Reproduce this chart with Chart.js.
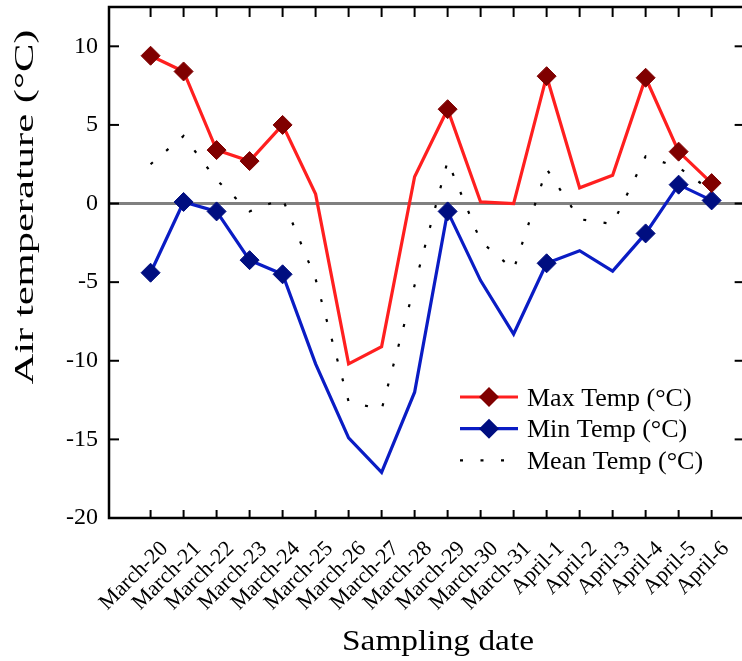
<!DOCTYPE html>
<html>
<head>
<meta charset="utf-8">
<title>Air temperature</title>
<script src="https://cdn.jsdelivr.net/npm/chart.js@4/dist/chart.umd.min.js"></script>
<style>
  html, body { margin: 0; padding: 0; background: #fff; }
  canvas { display: block; }
</style>
</head>
<body>
<canvas id="chart" width="742" height="661"></canvas>
<script>
const dates = [
  "March-20", "March-21", "March-22", "March-23", "March-24", "March-25",
  "March-26", "March-27", "March-28", "March-29", "March-30", "March-31",
  "April-1", "April-2", "April-3", "April-4", "April-5", "April-6",
];
const maxTemp = [9.4, 8.4, 3.4, 2.7, 5.0, 0.6, -10.2, -9.1, 1.7, 6.0, 0.1, 0.0, 8.1, 1.0, 1.8, 8.0, 3.3, 1.3];
const minTemp = [-4.4, 0.1, -0.5, -3.6, -4.5, -10.2, -14.9, -17.1, -12.0, -0.5, -4.9, -8.3, -3.8, -3.0, -4.3, -1.9, 1.2, 0.2];
const meanTemp = [2.5, 4.3, 1.5, -0.5, 0.3, -4.8, -12.6, -13.1, -5.2, 2.7, -2.4, -4.2, 2.2, -1.0, -1.3, 3.0, 2.3, 0.8];
// days that carry a diamond marker
const markedDates = ["March-20", "March-21", "March-22", "March-23", "March-24", "March-29", "April-1", "April-4", "April-5", "April-6"];
const yMin = -20;
const yMax = 12.5;
const yStep = 2.5;
const yLabelStep = 5;

const SERIF = '"Liberation Serif", "Times New Roman", serif';
const points = (vals) => vals.map((v, i) => ({ x: i, y: v }));
const markerSize = dates.map((d) => (markedDates.includes(d) ? 9.5 : 0));

function seg(ctx, x1, y1, x2, y2) {
  ctx.beginPath();
  ctx.moveTo(x1, y1);
  ctx.lineTo(x2, y2);
  ctx.stroke();
}

function diamond(ctx, cx, cy, r, color) {
  ctx.beginPath();
  ctx.moveTo(cx - r, cy);
  ctx.lineTo(cx, cy - r);
  ctx.lineTo(cx + r, cy);
  ctx.lineTo(cx, cy + r);
  ctx.closePath();
  ctx.fillStyle = color;
  ctx.fill();
}

// fixed axis sizes, no extra room for overhanging labels
function fixSize(prop, size) {
  return (s) => {
    s[prop] = size;
    s.paddingTop = s.paddingBottom = s.paddingLeft = s.paddingRight = 0;
  };
}

// boxed frame with inward ticks on all four sides, titles and legend
const framePlugin = {
  id: "frame",
  afterDraw(chart) {
    const { ctx, chartArea: a, scales } = chart;
    const x = scales.x;
    const y = scales.y;
    const right = x.getPixelForValue(18);
    ctx.save();
    ctx.strokeStyle = "#000";
    ctx.lineCap = "butt";

    ctx.lineWidth = 2;
    x.ticks.forEach((t) => {
      const px = x.getPixelForValue(t.value);
      seg(ctx, px, a.bottom, px, a.bottom - 8);
      seg(ctx, px, a.top, px, a.top + 10);
    });
    y.ticks.forEach((t) => {
      const py = y.getPixelForValue(t.value);
      const len = t.value % yLabelStep === 0 ? 10 : 5;
      seg(ctx, a.left, py, a.left + len, py);
      seg(ctx, right, py, right - len, py);
    });

    ctx.lineWidth = 2.5;
    ctx.strokeRect(a.left, a.top, right - a.left, a.bottom - a.top);

    // axis titles
    ctx.fillStyle = "#000";
    ctx.textAlign = "center";
    ctx.textBaseline = "alphabetic";

    const yTitle = "Air temperature (°C)";
    ctx.font = "28px " + SERIF;
    ctx.save();
    ctx.translate(33, 207);
    ctx.rotate(-Math.PI / 2);
    ctx.scale(355 / ctx.measureText(yTitle).width, 1);
    ctx.fillText(yTitle, 0, 0);
    ctx.restore();

    const xTitle = "Sampling date";
    ctx.font = "29px " + SERIF;
    ctx.save();
    ctx.translate(438, 650);
    ctx.scale(192 / ctx.measureText(xTitle).width, 1);
    ctx.fillText(xTitle, 0, 0);
    ctx.restore();

    // legend
    ctx.font = "26px " + SERIF;
    ctx.textAlign = "left";
    chart.data.datasets.forEach((ds, i) => {
      const cy = 397 + i * 31.7;
      ctx.save();
      ctx.strokeStyle = ds.borderColor;
      ctx.lineWidth = ds.borderWidth;
      ctx.setLineDash(ds.borderDash || []);
      seg(ctx, 460, cy, 518, cy);
      ctx.restore();
      if (ds.legendMarker) diamond(ctx, 489, cy, 10, ds.pointBackgroundColor);
      ctx.fillStyle = "#000";
      ctx.fillText(ds.label, 527, cy + 8.6);
    });
    ctx.restore();
  },
};

new Chart(document.getElementById("chart"), {
  type: "line",
  data: {
    datasets: [
      {
        label: "Max Temp (°C)",
        data: points(maxTemp),
        borderColor: "#ff1f1f",
        borderWidth: 3.2,
        pointStyle: "rectRot",
        pointRadius: markerSize,
        pointHoverRadius: markerSize,
        pointBackgroundColor: "#800000",
        pointBorderColor: "#800000",
        pointBorderWidth: 1,
        legendMarker: true,
        tension: 0,
      },
      {
        label: "Min Temp (°C)",
        data: points(minTemp),
        borderColor: "#0a1cc4",
        borderWidth: 3.2,
        pointStyle: "rectRot",
        pointRadius: markerSize,
        pointHoverRadius: markerSize,
        pointBackgroundColor: "#000e80",
        pointBorderColor: "#000e80",
        pointBorderWidth: 1,
        legendMarker: true,
        tension: 0,
      },
      {
        label: "Mean Temp (°C)",
        data: points(meanTemp),
        borderColor: "#000",
        borderWidth: 2.2,
        borderDash: [3, 17.5],
        borderCapStyle: "butt",
        pointRadius: 0,
        pointHoverRadius: 0,
        legendMarker: false,
        tension: 0,
      },
    ],
  },
  options: {
    responsive: false,
    devicePixelRatio: 1,
    animation: false,
    events: [],
    layout: { autoPadding: false, padding: { top: 7, right: 0, bottom: 0, left: 0 } },
    plugins: {
      legend: { display: false },
      tooltip: { enabled: false },
    },
    scales: {
      x: {
        type: "linear",
        min: -1.26,
        max: 17.92,
        afterBuildTicks: (s) => {
          s.ticks = [-1, ...dates.map((_, i) => i)].map((v) => ({ value: v }));
        },
        afterFit: fixSize("height", 143),
        grid: { display: false },
        border: { display: false },
        ticks: {
          autoSkip: false,
          minRotation: 45,
          maxRotation: 45,
          padding: 10,
          labelOffset: 14,
          color: "#000",
          font: { family: SERIF, size: 22 },
          callback: (v) => dates[v] ?? null,
        },
      },
      y: {
        min: yMin,
        max: yMax,
        afterFit: fixSize("width", 109),
        border: { display: false },
        grid: {
          drawTicks: false,
          lineWidth: 3,
          color: (c) => (c.tick && c.tick.value === 0 ? "#808080" : "rgba(0,0,0,0)"),
        },
        ticks: {
          stepSize: yStep,
          padding: 11,
          color: "#000",
          font: { family: SERIF, size: 24 },
          callback: (v) => (v % yLabelStep === 0 ? String(v) : null),
        },
      },
    },
  },
  plugins: [framePlugin],
});
</script>
</body>
</html>
